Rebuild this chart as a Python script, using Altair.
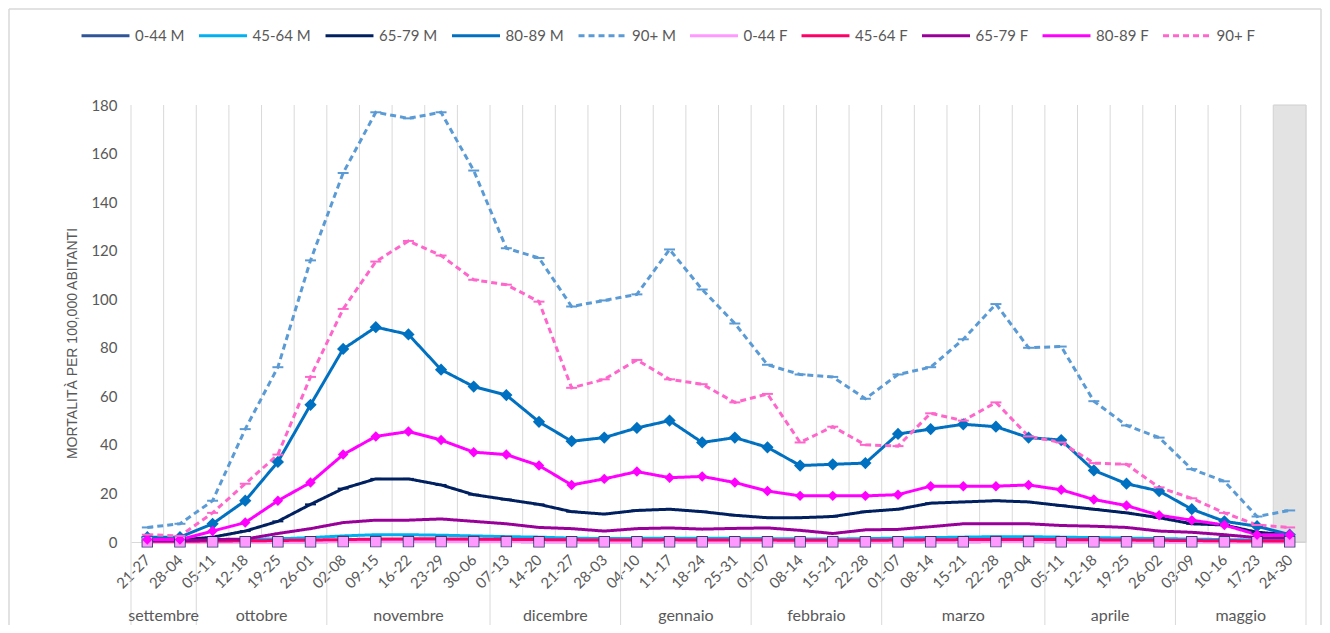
import altair as alt
import pandas as pd

# ---------------- data ----------------
week_labels = ["21-27", "28-04", "05-11", "12-18", "19-25", "26-01", "02-08", "09-15", "16-22",
               "23-29", "30-06", "07-13", "14-20", "21-27", "28-03", "04-10", "11-17", "18-24",
               "25-31", "01-07", "08-14", "15-21", "22-28", "01-07", "08-14", "15-21", "22-28",
               "29-04", "05-11", "12-18", "19-25", "26-02", "03-09", "10-16", "17-23", "24-30"]

months = ["settembre", "ottobre", "novembre", "dicembre", "gennaio", "febbraio", "marzo", "aprile", "maggio"]
month_weeks = [2, 4, 5, 4, 4, 4, 5, 4, 4]

series_names = ["0-44 M", "45-64 M", "65-79 M", "80-89 M", "90+ M",
                "0-44 F", "45-64 F", "65-79 F", "80-89 F", "90+ F"]

m_0_44 = [0.1, 0.1, 0.1, 0.1, 0.1, 0.1, 0.2, 0.2, 0.2, 0.2, 0.2, 0.2, 0.1, 0.1, 0.1, 0.1, 0.1, 0.1,
          0.1, 0.1, 0.1, 0.1, 0.1, 0.1, 0.1, 0.1, 0.2, 0.2, 0.1, 0.1, 0.1, 0.1, 0.1, 0.1, 0.1, 0.1]
m_45_64 = [0.5, 0.5, 0.8, 1.0, 1.3, 1.8, 2.5, 3.0, 3.0, 2.8, 2.5, 2.2, 2.0, 1.6, 1.4, 1.5, 1.6, 1.5,
           1.5, 1.4, 1.3, 1.2, 1.4, 1.6, 1.8, 2.0, 2.2, 2.2, 2.0, 1.8, 1.6, 1.4, 1.2, 1.0, 0.8, 0.8]
m_65_79 = [0.5, 0.8, 2.0, 4.5, 8.5, 15.5, 22.0, 26.0, 26.0, 23.5, 19.5, 17.5, 15.5, 12.5, 11.5, 13.0, 13.5, 12.5,
           11.0, 10.0, 10.0, 10.5, 12.5, 13.5, 16.0, 16.5, 17.0, 16.5, 15.0, 13.5, 12.0, 10.0, 7.5, 7.0, 4.0, 3.0]
m_80_89 = [2.0, 2.0, 7.5, 17.0, 33.0, 56.5, 79.5, 88.5, 85.5, 71.0, 64.0, 60.5, 49.5, 41.5, 43.0, 47.0, 50.0, 41.0,
           43.0, 39.0, 31.5, 32.0, 32.5, 44.5, 46.5, 48.5, 47.5, 43.0, 42.0, 29.5, 24.0, 21.0, 13.5, 8.5, 6.5, 3.0]
m_90 = [6.0, 7.5, 17.0, 46.5, 72.0, 116.0, 152.0, 177.0, 174.5, 177.0, 153.0, 121.0, 117.0, 97.0, 99.5, 102.0, 120.5, 104.0,
        90.0, 73.0, 69.0, 68.0, 59.0, 69.0, 72.0, 83.5, 98.0, 80.0, 80.5, 58.0, 48.0, 43.0, 30.0, 25.0, 10.5, 13.0]
f_0_44 = [0.05, 0.05, 0.05, 0.05, 0.05, 0.05, 0.1, 0.1, 0.1, 0.1, 0.1, 0.1, 0.05, 0.05, 0.05, 0.05, 0.05, 0.05,
          0.05, 0.05, 0.05, 0.05, 0.05, 0.05, 0.05, 0.05, 0.1, 0.1, 0.05, 0.05, 0.05, 0.05, 0.05, 0.05, 0.05, 0.05]
f_45_64 = [0.3, 0.3, 0.4, 0.5, 0.6, 0.8, 1.0, 1.2, 1.3, 1.3, 1.2, 1.1, 1.0, 0.9, 0.8, 0.8, 0.9, 0.8,
           0.8, 0.8, 0.7, 0.7, 0.7, 0.8, 0.9, 1.0, 1.0, 1.0, 1.0, 0.9, 0.8, 0.7, 0.6, 0.5, 0.4, 0.4]
f_65_79 = [0.5, 0.5, 1.0, 1.2, 3.5, 5.5, 8.0, 9.0, 9.0, 9.5, 8.5, 7.5, 6.0, 5.5, 4.5, 5.5, 5.8, 5.3,
           5.6, 5.8, 4.8, 3.5, 5.0, 5.2, 6.3, 7.5, 7.5, 7.5, 6.8, 6.5, 6.0, 4.5, 4.0, 3.0, 1.8, 1.8]
f_80_89 = [1.0, 1.0, 4.5, 8.0, 17.0, 24.5, 36.0, 43.5, 45.5, 42.0, 37.0, 36.0, 31.5, 23.5, 26.0, 29.0, 26.5, 27.0,
           24.5, 21.0, 19.0, 19.0, 19.0, 19.5, 23.0, 23.0, 23.0, 23.5, 21.5, 17.5, 15.0, 11.0, 9.0, 7.0, 3.0, 3.0]
f_90 = [3.0, 2.5, 12.0, 24.0, 36.0, 68.0, 96.0, 115.5, 124.0, 118.0, 108.0, 106.0, 99.0, 63.5, 67.0, 75.0, 67.0, 65.0,
        57.5, 61.0, 41.0, 47.5, 40.0, 39.5, 53.0, 50.0, 57.5, 43.5, 41.0, 32.5, 32.0, 22.5, 18.0, 12.0, 7.0, 6.0]

all_values = [m_0_44, m_45_64, m_65_79, m_80_89, m_90, f_0_44, f_45_64, f_65_79, f_80_89, f_90]

# ---------------- styles ----------------
colors = ["#2F5597", "#00B0F0", "#002060", "#0070C0", "#5B9BD5",
          "#FF99FF", "#FF0066", "#990099", "#FF00FF", "#FF66CC"]
dashes = [[1, 0], [1, 0], [1, 0], [1, 0], [6, 4], [1, 0], [1, 0], [1, 0], [1, 0], [6, 4]]
widths = [3, 3, 3.3, 4.5, 2.2, 3, 3, 3.3, 4.5, 2.2]

FONT = "Lato"
GREY = "#595959"
W, H = 1175, 437
n = len(week_labels)

rows = []
for s_i, (name, vals) in enumerate(zip(series_names, all_values)):
    for i, v in enumerate(vals):
        rows.append({"series": name, "order": s_i, "idx": i, "value": v})
df = pd.DataFrame(rows)

# category boundaries (grid lines) and month groups
bounds = pd.DataFrame({"b": [i - 0.5 for i in range(n + 1)]})
m_start, m_rows, m_bounds = 0, [], [-0.5]
for m, c in zip(months, month_weeks):
    m_rows.append({"month": m, "center": m_start + (c - 1) / 2})
    m_start += c
    m_bounds.append(m_start - 0.5)
mdf = pd.DataFrame(m_rows)
mbdf = pd.DataFrame({"b": m_bounds})
shade = pd.DataFrame({"x0": [n - 1.5], "x1": [n - 0.5]})

label_expr = "[" + ",".join("'%s'" % l for l in week_labels) + "][datum.value]"

xscale = alt.Scale(domain=[-0.5, n - 0.5], nice=False, zero=False)
yscale = alt.Scale(domain=[0, 180], nice=False)

x_axis = alt.Axis(values=list(range(n)), labelExpr=label_expr, labelAngle=-45, labelAlign="right",
                  labelBaseline="middle", labelPadding=15, labelFontSize=15, labelColor=GREY,
                  labelFont=FONT, ticks=False, grid=False, domainColor="#D9D9D9", title=None,
                  labelOverlap=False, labelFlush=False, labelBound=False)
y_axis = alt.Axis(values=list(range(0, 181, 20)), labelFontSize=15, labelColor=GREY, labelFont=FONT,
                  ticks=False, domain=False, grid=False, labelPadding=14,
                  title="MORTALITÀ PER 100,000 ABITANTI", titleFont="Liberation Sans",
                  titleFontSize=14, titleFontWeight="normal", titleColor=GREY, titlePadding=11,
                  titleY=238)

X = lambda f: alt.X(f, scale=xscale, axis=x_axis)
Y = lambda f: alt.Y(f, scale=yscale, axis=y_axis)

legend = alt.Legend(orient="none", legendX=-51, legendY=-95, direction="horizontal", columns=10,
                    symbolType="stroke", symbolSize=2300, symbolStrokeWidth=3.5,
                    labelFont=FONT, labelFontSize=15, labelColor=GREY, labelOffset=4,
                    columnPadding=7.5, labelLimit=200, title=None)

# outer chart border (decoration, kept inside the drawing area)
border = alt.Chart(pd.DataFrame({"k": [0]})).mark_rule(
    color="#D9D9D9", strokeWidth=1.5, clip=False
)
L, T, R, B = 9 - 131, 9 - 105, 1321 - 131, 640 - 105
border_layers = [
    border.encode(x=alt.value(L), x2=alt.value(R), y=alt.value(T)),
    border.encode(x=alt.value(L), y=alt.value(T), y2=alt.value(B)),
    border.encode(x=alt.value(R), y=alt.value(T), y2=alt.value(B)),
]

shade_layer = alt.Chart(shade).mark_rect(fill="#E3E3E3", stroke="#CFCFCF", strokeWidth=1).encode(
    x=X("x0:Q"), x2="x1:Q",
    y=alt.datum(180, type="quantitative", scale=yscale, axis=y_axis), y2=alt.datum(0))

grid = alt.Chart(bounds).mark_rule(color="#D9D9D9", strokeWidth=1).encode(
    x=X("b:Q"), y=alt.datum(180, type="quantitative", scale=yscale, axis=y_axis), y2=alt.datum(0))

month_sep = alt.Chart(mbdf).mark_rule(color="#D9D9D9", strokeWidth=1, clip=False).encode(
    x=X("b:Q"), y=alt.value(H), y2=alt.value(H + 90))

month_text = alt.Chart(mdf).mark_text(font=FONT, fontSize=16, color=GREY, baseline="middle", clip=False).encode(
    x=X("center:Q"), y=alt.value(H + 74), text="month:N")

lines = alt.Chart(df).mark_line(clip=False).encode(
    x=X("idx:Q"),
    y=Y("value:Q"),
    color=alt.Color("series:N", scale=alt.Scale(domain=series_names, range=colors),
                    sort=series_names, legend=legend),
    strokeDash=alt.StrokeDash("series:N", scale=alt.Scale(domain=series_names, range=dashes),
                              sort=series_names, legend=legend),
    strokeWidth=alt.StrokeWidth("series:N", scale=alt.Scale(domain=series_names, range=widths), legend=None),
    order=alt.Order("idx:Q"),
    detail="series:N",
)


def markers(name, shape, size, fill):
    return alt.Chart(df[df.series == name]).mark_point(
        shape=shape, size=size, filled=True, fill=fill, opacity=1, clip=False
    ).encode(x=X("idx:Q"), y=Y("value:Q"))


def dash_markers(name, color):
    return alt.Chart(df[df.series == name]).mark_point(
        shape="stroke", size=120, stroke=color, strokeWidth=2, filled=False, opacity=1, clip=False
    ).encode(x=X("idx:Q"), y=Y("value:Q"))


chart = alt.layer(
    *border_layers, shade_layer, grid, month_sep, month_text, lines,
    markers("0-44 M", "square", 130, "#203864"),
    dash_markers("65-79 M", "#002060"),
    markers("80-89 M", "diamond", 150, "#0070C0"),
    dash_markers("90+ M", "#5B9BD5"),
    markers("0-44 F", "square", 95, "#FF99FF"),
    markers("80-89 F", "diamond", 110, "#FF00FF"),
    dash_markers("90+ F", "#FF66CC"),
).properties(
    width=W, height=H,
    autosize=alt.AutoSizeParams(type="none"),
    padding={"left": 123, "top": 97, "right": 16, "bottom": 83},
).configure_view(stroke=None)

chart.save("out.html", embed_options={"renderer": "svg", "actions": False})
